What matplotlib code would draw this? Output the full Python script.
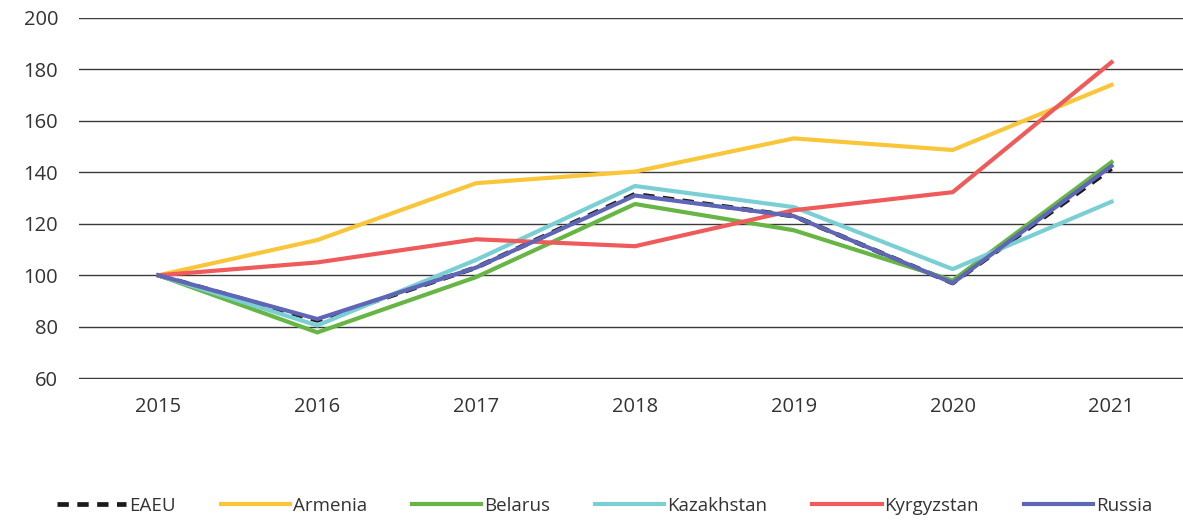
import matplotlib.pyplot as plt

plt.rcParams['font.family'] = ['Open Sans', 'DejaVu Sans']

years = ['2015', '2016', '2017', '2018', '2019', '2020', '2021']
eaeu = [100, 82.5, 103, 131.5, 123, 97, 141.5]
armenia = [100, 113.7, 135.8, 140.3, 153.2, 148.7, 174]
belarus = [100, 77.8, 99.3, 127.7, 117.5, 98, 144]
kazakhstan = [100, 80.5, 106, 134.7, 126.5, 102.4, 128.6]
kyrgyzstan = [100, 105, 114, 111.3, 125.3, 132.3, 182.8]
russia = [100, 83, 103, 131, 123, 97, 142.5]

fig = plt.figure(figsize=(11.83, 5.2), dpi=100)
ax = fig.add_axes([0.0668, 0.2712, 0.9332, 0.6942])

x = range(len(years))
ax.plot(x, eaeu, color='#1a1a1a', lw=3.4, ls=(0, (2.4, 1.8)), label='EAEU', zorder=2)
ax.plot(x, armenia, color='#F9C63A', lw=3, label='Armenia', zorder=3)
ax.plot(x, belarus, color='#66B545', lw=3, label='Belarus', zorder=3)
ax.plot(x, kazakhstan, color='#7ACFD4', lw=3, label='Kazakhstan', zorder=3)
ax.plot(x, kyrgyzstan, color='#EF5A5A', lw=3, label='Kyrgyzstan', zorder=3)
ax.plot(x, russia, color='#5F66B5', lw=3, label='Russia', zorder=4)

ax.set_xlim(-0.5, 6.45)
ax.set_ylim(59.7, 200)
ax.set_yticks(range(60, 201, 20))
ax.set_xticks(list(x))
ax.set_xticklabels(years)

for s in ax.spines.values():
    s.set_visible(False)
ax.yaxis.grid(True, color='#3a3a3a', lw=1)
ax.set_axisbelow(True)
ax.tick_params(length=0, labelsize=14.5, colors='#333333')
ax.tick_params(axis='x', pad=13)
ax.tick_params(axis='y', pad=15)

fig.legend(loc='lower center', bbox_to_anchor=(0.511, -0.022), ncol=6, frameon=False,
           fontsize=13.5, handlelength=3.7, handletextpad=0.15, columnspacing=2.4,
           labelcolor='#333333')

fig.savefig('out.png', dpi=100)
